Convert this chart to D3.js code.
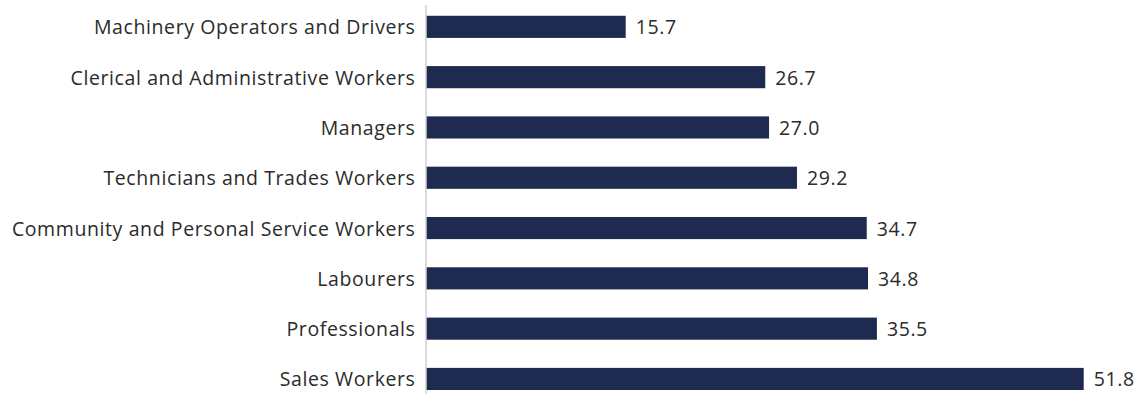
<!DOCTYPE html>
<html>
<head>
<meta charset="utf-8">
<script src="https://cdn.jsdelivr.net/npm/d3@7"></script>
<style>
  body { margin: 0; background: #fff; }
  text { font-family: "Open Sans", "Noto Sans", sans-serif; fill: #2b2b2b; }
</style>
</head>
<body>
<div id="chart"></div>
<script>
var categories = ["Machinery Operators and Drivers", "Clerical and Administrative Workers", "Managers",
    "Technicians and Trades Workers", "Community and Personal Service Workers", "Labourers",
    "Professionals", "Sales Workers"];
var values = [15.7, 26.7, 27.0, 29.2, 34.7, 34.8, 35.5, 51.8];

var width = 1141, height = 394;
var axisX = 426.5;

var svg = d3.select("#chart").append("svg").attr("width", width).attr("height", height);

var x = d3.scaleLinear().domain([0, 51.8]).range([axisX, 1083.7]);
var y = d3.scaleBand().domain(categories).range([1.7, 404.1]).paddingInner(0.56).paddingOuter(0.28);

var rows = categories.map(function(c, i) { return {name: c, value: values[i]}; });

svg.selectAll("rect.bar").data(rows).enter().append("rect").attr("class", "bar")
    .attr("x", x(0)).attr("y", function(d) { return y(d.name); })
    .attr("width", function(d) { return x(d.value) - x(0); })
    .attr("height", y.bandwidth())
    .attr("fill", "#1e2a4f");

svg.append("line").attr("x1", axisX - 0.5).attr("x2", axisX - 0.5).attr("y1", 5).attr("y2", height)
    .attr("stroke", "#bbb").attr("stroke-width", 1);

svg.selectAll("text.cat").data(rows).enter().append("text").attr("class", "cat")
    .attr("x", axisX - 11).attr("y", function(d) { return y(d.name) + y.bandwidth() / 2; })
    .attr("text-anchor", "end").attr("dominant-baseline", "central")
    .style("font-size", "19.5px").style("letter-spacing", "0.6px").text(function(d) { return d.name; });

svg.selectAll("text.val").data(rows).enter().append("text").attr("class", "val")
    .attr("x", function(d) { return x(d.value) + 10; })
    .attr("y", function(d) { return y(d.name) + y.bandwidth() / 2; })
    .attr("dominant-baseline", "central")
    .style("font-size", "19.5px").style("letter-spacing", "0.6px").text(function(d) { return d.value.toFixed(1); });
</script>
</body>
</html>
